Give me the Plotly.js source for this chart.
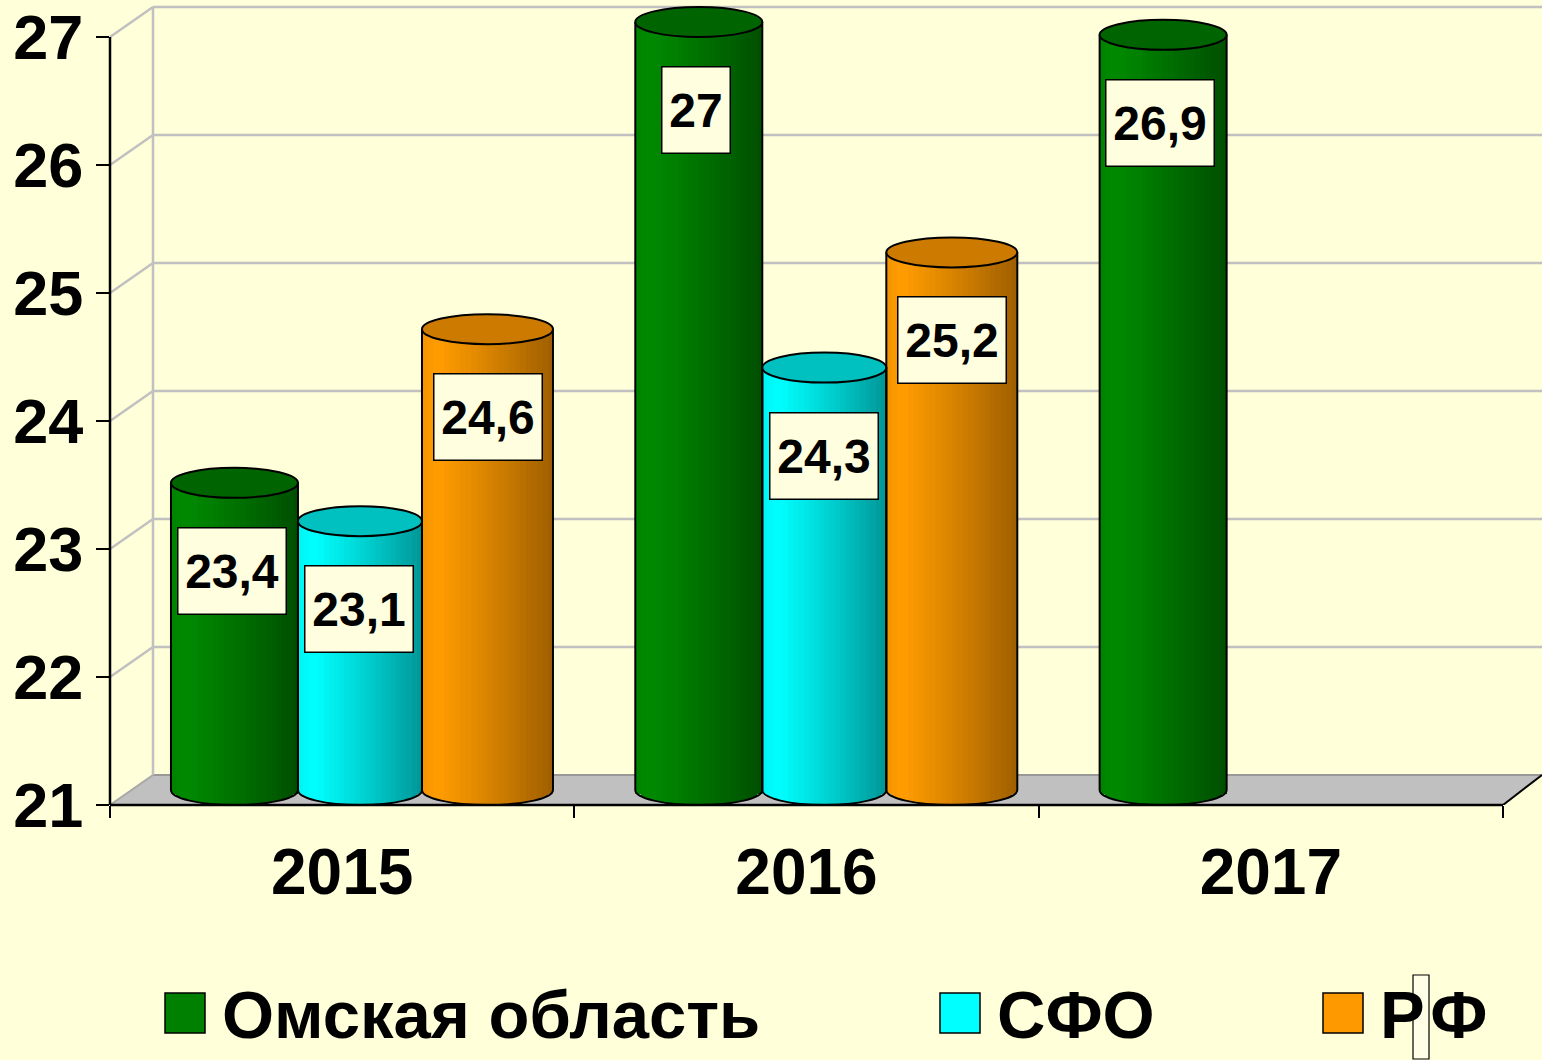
<!DOCTYPE html>
<html><head><meta charset="utf-8">
<script src="https://cdn.plot.ly/plotly-3.0.1.min.js"></script>
<style>html,body{margin:0;padding:0;background:#FFFFD9;} #chart{width:1542px;height:1060px;}</style>
</head><body><div id="chart"></div>
<script>
// ---------- data ----------
const years = ['2015', '2016', '2017'];
const seriesNames = ['Омская область', 'СФО', 'Р\u200AФ'];
const omsk = [23.4, 27, 26.9];
const sfo = [23.1, 24.3, null];
const rf = [24.6, 25.2, null];
const yTicks = [21, 22, 23, 24, 25, 26, 27];

// ---------- geometry / style ----------
const W = 1542, H = 1060;
const M = {l: 110, r: 0, t: 5, b: 255};
const YMIN = 21, YMAX = 27.25;
const XMIN = -0.5, XMAX = 2.584;
const plotW = W - M.l - M.r, plotH = H - M.t - M.b;
const pxPerY = plotH / (YMAX - YMIN);
const D = 15 / pxPerY;            // half-height of cylinder ellipse (y units)
const DX = 43 / plotW;            // depth offset (paper)
const DY = 30 / pxPerY;           // depth offset (y units)
const XR = (2.5 - XMIN) / (XMAX - XMIN); // paper x of axis end
const FONT = 'Arial, "Liberation Sans", sans-serif';
const BG = '#FFFFD9';

const styles = [
  {vals: omsk, left: -0.3687, width: 0.2735, light: [0, 138, 0], dark: [0, 78, 0], top: '#006400', legend: '#008000', labelDx: -0.238},
  {vals: sfo, left: -0.0952, width: 0.2671, light: [0, 255, 255], dark: [0, 150, 150], top: '#00C0C0', legend: '#00FFFF', labelDx: 0.037},
  {vals: rf, left: 0.1719, width: 0.2821, light: [255, 156, 0], dark: [158, 94, 0], top: '#CC7A00', legend: '#FF9900', labelDx: 0.313}
];

function px2px(px) { return (px - M.l) / plotW; }
function py2py(py) { return (H - M.b - py) / plotH; }
function mix(a, b, t) {
  return 'rgb(' + a.map((c, i) => Math.round(c + (b[i] - c) * t)).join(',') + ')';
}

const N = 24;
const traces = [];
const shapes = [];
const annotations = [];

// back walls & floor (below traces)
const gridCol = '#C0C0C0';
shapes.push({type: 'path', xref: 'paper', yref: 'y', layer: 'below',
  path: `M0,${YMIN} L${XR},${YMIN} L1,${YMIN + DY} L${DX},${YMIN + DY} Z`,
  fillcolor: '#C0C0C0', line: {width: 0}});
shapes.push({type: 'line', xref: 'paper', yref: 'y', layer: 'below', x0: DX, x1: 1, y0: YMIN + DY, y1: YMIN + DY, line: {color: '#999999', width: 2}});
shapes.push({type: 'line', xref: 'paper', yref: 'y', layer: 'below', x0: 0, x1: DX, y0: YMIN, y1: YMIN + DY, line: {color: '#A8A8A8', width: 2}});
yTicks.slice(1).forEach(v => {
  shapes.push({type: 'line', xref: 'paper', yref: 'y', layer: 'below', x0: DX, x1: 1, y0: v + DY, y1: v + DY, line: {color: gridCol, width: 2.5}});
  shapes.push({type: 'line', xref: 'paper', yref: 'y', layer: 'below', x0: 0, x1: DX, y0: v, y1: v + DY, line: {color: gridCol, width: 2.5}});
});
shapes.push({type: 'line', xref: 'paper', yref: 'y', layer: 'below', x0: DX, x1: DX, y0: YMIN + DY, y1: yTicks[yTicks.length - 1] + DY, line: {color: gridCol, width: 2.5}});

// cylinders
styles.forEach((s, si) => {
  for (let i = 0; i < N; i++) {
    const tc = -1 + (2 * i + 1) / N;
    const base = YMIN + D * (1 - Math.sqrt(1 - tc * tc));
    const f = (i + 0.5) / N;
    const g = f < 0.12 ? 0.12 - f : Math.pow((f - 0.12) / 0.88, 1.1);
    traces.push({
      type: 'bar', x: years,
      y: s.vals.map(v => v == null ? null : v + D - base),
      base: s.vals.map(v => v == null ? null : base),
      width: s.width / N + 0.0004, offset: s.left + i * s.width / N,
      marker: {color: mix(s.light, s.dark, Math.min(1, g)), line: {width: 0}},
      hoverinfo: 'skip', showlegend: false
    });
  }
  s.vals.forEach((v, ci) => {
    if (v == null) return;
    const L = ci + s.left, R = L + s.width, C = (L + R) / 2, rx = (R - L) / 2, k = 0.5523;
    const cy = YMIN + D, ry = D, topY = v + D;
    shapes.push({type: 'path', xref: 'x', yref: 'y', layer: 'above',
      path: `M${L},${topY} L${L},${cy} C${L},${cy - k * ry} ${C - k * rx},${cy - ry} ${C},${cy - ry} C${C + k * rx},${cy - ry} ${R},${cy - k * ry} ${R},${cy} L${R},${topY}`,
      line: {color: '#000', width: 2}});
    shapes.push({type: 'circle', xref: 'x', yref: 'y', layer: 'above',
      x0: L, x1: R, y0: v, y1: v + 2 * D, fillcolor: s.top, line: {color: '#000', width: 2}});
    const txt = String(v).replace('.', ',');
    annotations.push({xref: 'x', yref: 'y', x: ci + s.labelDx, y: v - 0.57,
      text: txt, showarrow: false, font: {family: FONT, size: 48, color: '#000', weight: 700},
      bgcolor: '#FFFFE0', bordercolor: '#000', borderwidth: 1.5, borderpad: 0,
      width: txt.length >= 3 ? 107 : 67, height: 85, align: 'center', valign: 'middle'});
  });
});

// axis lines
shapes.push({type: 'line', xref: 'paper', yref: 'y', layer: 'above', x0: XR, x1: 1, y0: YMIN, y1: YMIN + DY, line: {color: '#000', width: 2}});
shapes.push({type: 'line', xref: 'x', yref: 'paper', layer: 'above', x0: -0.5, x1: 2.5, y0: 0, y1: 0, line: {color: '#000', width: 2.5}});
shapes.push({type: 'line', xref: 'paper', yref: 'y', layer: 'above', x0: 0, x1: 0, y0: YMIN, y1: yTicks[yTicks.length - 1], line: {color: '#000', width: 2.5}});

// legend (manual)
const legendPos = [{sq: 165, tx: 220}, {sq: 940, tx: 995}, {sq: 1323, tx: 1378}];
styles.forEach((s, si) => {
  const p = legendPos[si];
  shapes.push({type: 'rect', xref: 'paper', yref: 'paper', x0: px2px(p.sq), x1: px2px(p.sq + 40), y0: py2py(1033), y1: py2py(993),
    fillcolor: s.legend, line: {color: '#000', width: 1.5}});
  annotations.push({xref: 'paper', yref: 'paper', x: px2px(p.tx), y: py2py(1014), xanchor: 'left', yanchor: 'middle',
    text: seriesNames[si], showarrow: false, font: {family: FONT, size: 67, color: '#000', weight: 700}});
});
shapes.push({type: 'rect', xref: 'paper', yref: 'paper', x0: px2px(1413), x1: px2px(1429), y0: py2py(1059), y1: py2py(975),
  fillcolor: '#FFFFE8', line: {color: '#000', width: 1.2}});

const layout = {
  width: W, height: H, margin: M,
  paper_bgcolor: BG, plot_bgcolor: BG,
  barmode: 'overlay', bargap: 0,
  showlegend: false,
  xaxis: {type: 'category', categoryorder: 'array', categoryarray: years, range: [XMIN, XMAX],
    tickson: 'boundaries', ticks: 'outside', ticklen: 12, tickwidth: 2, tickcolor: '#000',
    ticklabelstandoff: 24,
    showline: false, showgrid: false, zeroline: false, fixedrange: true,
    tickfont: {family: FONT, size: 64, color: '#000', weight: 700}},
  yaxis: {range: [YMIN, YMAX], tickmode: 'array', tickvals: yTicks, ticks: 'outside', ticklen: 13, tickwidth: 2, tickcolor: '#000',
    showline: false, showgrid: false, zeroline: false, fixedrange: true,
    tickfont: {family: FONT, size: 63, color: '#000', weight: 700}},
  shapes: shapes, annotations: annotations
};
Plotly.newPlot('chart', traces, layout, {displayModeBar: false, staticPlot: true});
</script></body></html>
